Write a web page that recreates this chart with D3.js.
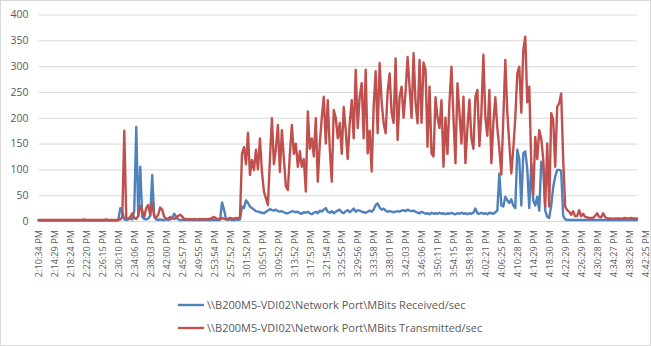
<!DOCTYPE html>
<html>
<head>
<meta charset="utf-8">
<script src="https://cdn.jsdelivr.net/npm/d3@7"></script>
<style>
  body { margin: 0; background: #fff; }
  svg { display: block; }
  text { font-family: "Open Sans", "Noto Sans", sans-serif; fill: #595959; }
</style>
</head>
<body>
<svg id="chart" width="651" height="346"></svg>
<script>
// Time labels shown on the category axis (one every 8 samples)
const tickLabels = [
  "2:10:34 PM","2:14:29 PM","2:18:24 PM","2:22:20 PM","2:26:15 PM","2:30:10 PM",
  "2:34:06 PM","2:38:03 PM","2:42:00 PM","2:45:57 PM","2:49:55 PM","2:53:54 PM",
  "2:57:52 PM","3:01:52 PM","3:05:51 PM","3:09:52 PM","3:13:52 PM","3:17:53 PM",
  "3:21:54 PM","3:25:55 PM","3:29:56 PM","3:33:58 PM","3:38:01 PM","3:42:03 PM",
  "3:46:06 PM","3:50:11 PM","3:54:15 PM","3:58:18 PM","4:02:21 PM","4:06:25 PM",
  "4:10:28 PM","4:14:29 PM","4:18:30 PM","4:22:29 PM","4:26:29 PM","4:30:28 PM",
  "4:34:27 PM","4:38:26 PM","4:42:25 PM"
];
const labelEvery = 8;

// MBits Received/sec
const received = [
  1,1,1,1,1,1,1,1,1,1, 1,1,1,1,1,1,1,1,1,1, 1,1,1,1,1,1,1,1,1,1, 1,1,1,1,1,1,1,1,1,1,
  2,25,18,3,2,3,5,3,20,182,
  10,105,8,4,3,5,10,89,8,3,
  2,3,2,2,3,2,3,6,14,8,
  3,2,2,2,2,2,2,2,2,2,
  2,2,2,2,2,2,2,2,2,2,
  2,2,36,22,4,2,3,2,2,3,
  2,3,28,25,40,35,28,25,22,19,
  18,17,16,15,18,20,23,21,20,22,
  19,18,19,17,15,15,17,19,18,17,
  18,15,14,17,16,18,15,13,16,18,
  15,20,18,22,25,18,16,19,15,18,
  20,22,17,15,19,21,17,20,24,18,
  21,20,18,17,16,18,20,18,22,31,
  34,26,22,24,20,18,19,18,17,18,
  19,18,20,21,19,22,20,19,20,18,
  16,15,18,16,14,15,13,16,14,15,
  14,16,14,15,13,15,14,16,14,13,
  15,14,16,14,15,13,15,14,16,24,
  15,14,16,14,15,13,16,15,14,17,
  20,92,30,28,47,40,35,42,30,25,
  138,120,30,131,135,100,25,110,40,30,
  47,20,115,105,20,8,6,30,66,86,
  99,99,97,10,3,2,2,2,2,2,
  2,2,2,2,2,2,2,2,2,2,
  2,2,2,2,2,2,2,2,2,2,
  2,2,2,2,2,2,2,2,2,2,2
];

// MBits Transmitted/sec
const transmitted = [
  2,2,2,2,2,2,2,2,2,2,
  2,2,2,2,2,2,2,2,2,2,
  2,2,2,3,2,2,2,2,2,2,
  2,2,2,2,3,2,2,2,2,2,
  2,3,8,175,5,4,8,15,6,4,
  10,29,20,8,25,31,12,35,10,6,
  12,26,22,8,5,4,8,5,4,6,
  10,12,9,4,4,3,4,3,4,3,
  3,4,3,4,3,4,4,6,8,5,
  4,3,6,4,3,4,6,5,4,6,
  5,8,130,143,110,171,89,118,99,138,
  100,160,95,57,44,31,120,199,110,140,
  186,95,176,120,67,60,130,186,130,150,
  105,135,105,120,57,212,140,160,125,199,
  76,150,200,241,150,234,140,76,215,200,
  160,190,130,221,175,120,190,234,160,293,
  180,241,267,160,293,131,175,96,221,290,
  170,306,230,190,170,250,286,210,190,315,
  157,240,260,200,250,318,260,200,325,230,
  189,312,190,307,293,144,260,131,125,240,
  200,180,234,105,200,130,230,299,200,112,
  267,210,150,241,112,180,235,160,140,241,
  254,145,210,322,200,165,254,112,190,240,
  180,140,90,200,312,210,150,92,140,200,
  286,299,210,331,357,230,260,110,52,163,
  120,176,160,120,28,150,28,209,196,105,
  221,228,247,120,28,21,18,12,19,9,
  10,21,9,14,8,7,6,6,6,10,
  15,8,7,15,8,5,5,5,4,5,
  5,5,4,5,6,5,5,6,5,5,5
];

const yTicks = [0, 50, 100, 150, 200, 250, 300, 350, 400];
const seriesNames = [
  "\\\\B200M5-VDI02\\Network Port\\MBits Received/sec",
  "\\\\B200M5-VDI02\\Network Port\\MBits Transmitted/sec"
];
const seriesColors = ["#4F81BD", "#C0504D"];

const svg = d3.select("#chart");
const W = 651, H = 346;

// outer chart frame
svg.append("rect")
  .attr("x", 0.5).attr("y", 0.5)
  .attr("width", W - 1).attr("height", H - 1)
  .attr("fill", "#fff").attr("stroke", "#d9d9d9");

const plot = { left: 38.5, right: 637, top: 14.5, bottom: 221 };

const x = d3.scaleLinear()
  .domain([0, received.length - 1])
  .range([plot.left, plot.right]);

const y = d3.scaleLinear()
  .domain([0, 400])
  .range([plot.bottom, plot.top]);

// horizontal gridlines + value labels
const yAxis = d3.axisLeft(y)
  .tickValues(yTicks)
  .tickSize(-(plot.right - plot.left))
  .tickPadding(10);

const gy = svg.append("g")
  .attr("transform", `translate(${plot.left},0)`)
  .call(yAxis);
gy.select(".domain").remove();
gy.selectAll(".tick line").attr("stroke", "#d9d9d9").attr("stroke-width", 1);
gy.selectAll(".tick text")
  .attr("font-size", 10.5)
  .attr("fill", "#595959")
  .style("font-family", '"Open Sans", sans-serif');

// category axis with rotated time labels
const tickIdx = tickLabels.map((_, k) => k * labelEvery);
const xAxis = d3.axisBottom(x)
  .tickValues(tickIdx)
  .tickSize(0)
  .tickFormat((d) => tickLabels[d / labelEvery]);

const gx = svg.append("g")
  .attr("transform", `translate(0,${plot.bottom})`)
  .call(xAxis);
gx.select(".domain").attr("stroke", "#d9d9d9");
gx.selectAll(".tick text")
  .attr("font-size", 9.2)
  .attr("fill", "#595959")
  .style("font-family", '"Open Sans", sans-serif')
  .attr("text-anchor", "end")
  .attr("transform", "rotate(-90)")
  .attr("x", -9)
  .attr("y", 0)
  .attr("dy", "0.35em");

// series lines
const line = d3.line()
  .x((d, i) => x(i))
  .y((d) => y(d));

[received, transmitted].forEach((vals, s) => {
  svg.append("path")
    .datum(vals)
    .attr("fill", "none")
    .attr("stroke", seriesColors[s])
    .attr("stroke-width", 2.4)
    .attr("stroke-linejoin", "round")
    .attr("stroke-linecap", "round")
    .attr("d", line);
});

// legend
const legend = svg.append("g");
seriesNames.forEach((name, s) => {
  const ly = 305 + s * 23;
  legend.append("line")
    .attr("x1", 178).attr("x2", 204)
    .attr("y1", ly).attr("y2", ly)
    .attr("stroke", seriesColors[s])
    .attr("stroke-width", 2.4);
  legend.append("text")
    .attr("x", 207).attr("y", ly)
    .attr("dy", "0.35em")
    .attr("font-size", 11)
    .text(name);
});
</script>
</body>
</html>
